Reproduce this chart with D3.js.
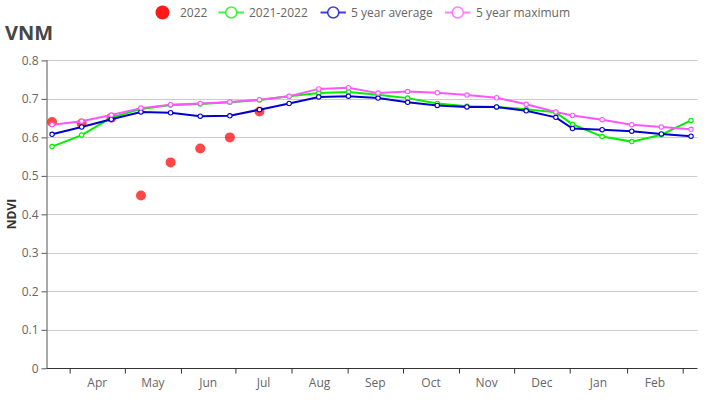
<!DOCTYPE html>
<html><head><meta charset="utf-8">
<script src="https://cdn.jsdelivr.net/npm/d3@7"></script>
<style>
html,body{margin:0;padding:0;background:#fff}
svg{display:block}
text{font-family:"Open Sans",sans-serif}
</style></head><body>
<svg id="c" width="726" height="400"></svg>
<script>
const title = "VNM";
const yLabel = "NDVI";
const monthLabels = ["Apr","May","Jun","Jul","Aug","Sep","Oct","Nov","Dec","Jan","Feb"];
// time positions (days from the first composite)
const monthStartDays = [9.5,39.3,69.6,99,129.3,159.6,189.5,219.7,249.5,279.5,310.5,340.5];
const pointDays = [0,16,32,48,64,80,96,112,128,144,160,176,192,208,224,240,256,272,281,297,313,329,345];
const yTicks = [0,0.1,0.2,0.3,0.4,0.5,0.6,0.7,0.8];

const current2022 = [0.640,0.636,0.651,0.449,0.535,0.571,0.600,0.667];
const prev2021 = [0.576,0.606,0.651,0.674,0.684,0.687,0.691,0.697,0.707,0.715,0.718,0.711,0.702,0.688,0.681,0.679,0.673,0.665,0.634,0.602,0.589,0.607,0.644];
const avg5 = [0.608,0.627,0.647,0.666,0.664,0.655,0.656,0.672,0.688,0.705,0.707,0.702,0.691,0.683,0.679,0.679,0.669,0.652,0.623,0.620,0.616,0.609,0.603];
const max5 = [0.633,0.642,0.658,0.676,0.685,0.688,0.692,0.698,0.707,0.726,0.729,0.715,0.719,0.716,0.710,0.703,0.686,0.666,0.657,0.646,0.633,0.627,0.621];

const seriesNames = ["2022","2021-2022","5 year average","5 year maximum"];
const GREEN="#00f000", BLUE="#0000cd", MAG="#ff55ff", RED="#ff0000";

const svg = d3.select("#c");
const x = d3.scaleLinear().domain([-3,348.5]).range([46.5,697.5]);
const y = d3.scaleLinear().domain([0,0.8]).range([368.3,60.4]);

// grid
svg.append("g").selectAll("line").data(yTicks.slice(1)).join("line")
  .attr("x1",46.5).attr("x2",697.5)
  .attr("y1",d=>Math.round(y(d))+.5).attr("y2",d=>Math.round(y(d))+.5)
  .attr("stroke","#ccc").attr("stroke-width",1);

// y axis
const yG = svg.append("g").attr("transform","translate(46.5,0)")
  .call(d3.axisLeft(y).tickValues(yTicks).tickSize(5).tickPadding(3).tickFormat(d=>d===0?"0":d3.format(".1f")(d)));
yG.select(".domain").attr("stroke","#555").attr("d","M0.5,368V60");
yG.selectAll(".tick line").attr("stroke","#555");
yG.selectAll("text").attr("font-size",12).attr("fill","#666").style("font-family",'"Open Sans",sans-serif');

// x axis
const xG = svg.append("g").attr("transform","translate(0,368.5)")
  .call(d3.axisBottom(x).tickValues(monthStartDays).tickSize(5).tickFormat(""));
xG.select(".domain").attr("stroke","#333").attr("d","M46.5,0H697.5");
xG.selectAll(".tick line").attr("stroke","#333");
svg.append("g").selectAll("text").data(monthLabels).join("text")
  .attr("x",(d,i)=>x((monthStartDays[i]+monthStartDays[i+1])/2))
  .attr("y",387).attr("text-anchor","middle")
  .attr("font-size",12).attr("fill","#666").text(d=>d);

// 2022 dots
svg.append("g").selectAll("circle").data(current2022).join("circle")
  .attr("cx",(d,i)=>x(pointDays[i])).attr("cy",d=>y(d)).attr("r",5)
  .attr("fill",RED).attr("fill-opacity",0.72);

const line = d3.line().x((d,i)=>x(pointDays[i])).y(d=>y(d));
[[prev2021,GREEN],[avg5,BLUE],[max5,MAG]].forEach(([vals,col])=>{
  const g = svg.append("g");
  g.append("path").attr("d",line(vals)).attr("fill","none").attr("stroke",col).attr("stroke-width",2);
  g.selectAll("circle").data(vals).join("circle")
    .attr("cx",(d,i)=>x(pointDays[i])).attr("cy",d=>y(d)).attr("r",2.2)
    .attr("fill","#fff").attr("stroke",col).attr("stroke-width",1.1);
});

// title + y label
svg.append("text").attr("x",5).attr("y",40).attr("font-size",20).attr("font-weight",700).attr("fill","#464646").text(title);
svg.append("text").attr("transform","translate(16,214) rotate(-90)").attr("text-anchor","middle")
  .attr("font-size",12).attr("font-weight",700).attr("fill","#333").text(yLabel);

// legend
const leg = svg.append("g");
const LY=12.5;
leg.append("circle").attr("cx",162.5).attr("cy",LY).attr("r",7).attr("fill",RED).attr("fill-opacity",.9);
leg.append("text").attr("x",180).attr("y",17).attr("font-size",12).attr("fill","#666").text(seriesNames[0]);
[[218.5,GREEN,249,1],[320.5,BLUE,351,2],[445,MAG,476,3]].forEach(([lx,col,tx,i])=>{
  leg.append("line").attr("x1",lx).attr("x2",lx+25.5).attr("y1",LY).attr("y2",LY).attr("stroke",col).attr("stroke-width",2).attr("stroke-opacity",.75);
  leg.append("circle").attr("cx",lx+12.75).attr("cy",LY).attr("r",5.5).attr("fill","#fff").attr("stroke",col).attr("stroke-opacity",.75).attr("stroke-width",1.5);
  leg.append("text").attr("x",tx).attr("y",17).attr("font-size",12).attr("fill","#666").text(seriesNames[i]);
});
</script>
</body></html>
